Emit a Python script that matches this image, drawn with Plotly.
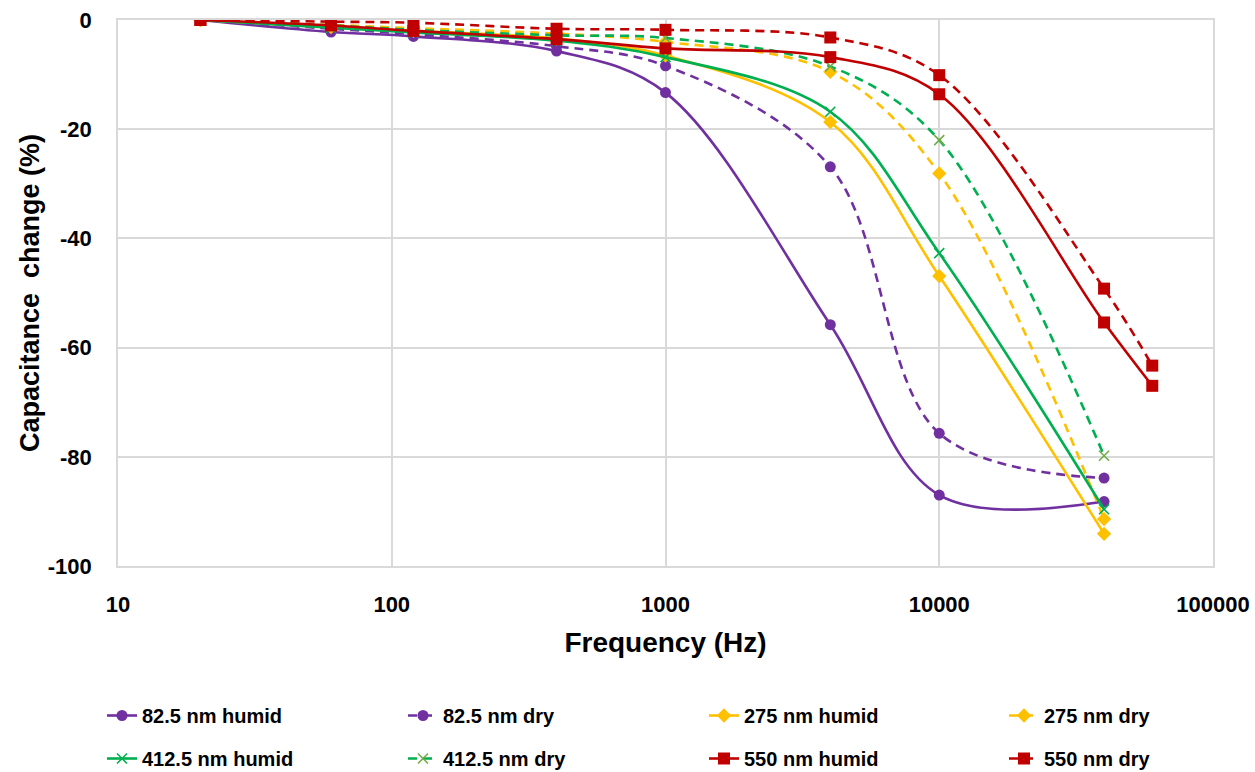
import plotly.graph_objects as go

freq = [20, 60, 120, 400, 1000, 4000, 10000, 40000]
freq_550 = [20, 60, 120, 400, 1000, 4000, 10000, 40000, 60000]

y_825_humid = [0, -2.2, -3.0, -5.7, -13.3, -55.8, -87.0, -88.2]
y_825_dry = [0, -1.6, -2.6, -4.8, -8.4, -26.9, -75.7, -83.9]
y_275_humid = [0, -1.3, -2.0, -3.4, -6.5, -18.7, -46.9, -94.1]
y_275_dry = [0, -0.9, -1.5, -2.5, -4.0, -9.5, -28.1, -91.4]
y_4125_humid = [0, -1.4, -2.3, -3.8, -6.8, -16.8, -42.7, -89.6]
y_4125_dry = [0, -1.0, -1.8, -2.8, -3.3, -8.5, -22.0, -79.8]
y_550_humid = [0, -1.0, -2.0, -3.5, -5.2, -6.8, -13.6, -55.4, -67.0]
y_550_dry = [0, -0.3, -0.5, -1.6, -1.8, -3.2, -10.1, -49.2, -63.3]

x_tickvals = [10, 100, 1000, 10000, 100000]
x_ticktext = ["10", "100", "1000", "10000", "100000"]
y_tickvals = [0, -20, -40, -60, -80, -100]
y_ticktext = ["0", "-20", "-40", "-60", "-80", "-100"]

# name, x, y, line colour, dash, symbol, marker colour, legend id
series = [
    ("82.5 nm humid", freq, y_825_humid, "#7030A0", "solid", "circle", "#7030A0", "legend"),
    ("82.5 nm dry", freq, y_825_dry, "#7030A0", "dash", "circle", "#7030A0", "legend2"),
    ("275 nm humid", freq, y_275_humid, "#FFC000", "solid", "diamond", "#FFC000", "legend3"),
    ("275 nm dry", freq, y_275_dry, "#FFC000", "dash", "diamond", "#FFC000", "legend4"),
    ("412.5 nm humid", freq, y_4125_humid, "#00B050", "solid", "x-thin", "#00B050", "legend"),
    ("412.5 nm dry", freq, y_4125_dry, "#00B050", "dash", "x-thin", "#70AD47", "legend2"),
    ("550 nm humid", freq_550, y_550_humid, "#C00000", "solid", "square", "#C00000", "legend3"),
    ("550 nm dry", freq_550, y_550_dry, "#C00000", "dash", "square", "#C00000", "legend4"),
]

fig = go.Figure()
for name, xs, ys, col, dash, sym, mcol, leg in series:
    dash_val = "9px,6px" if dash == "dash" else "solid"
    if sym == "x-thin":
        marker = dict(symbol=sym, size=10, color=mcol, line=dict(color=mcol, width=1.6))
    elif sym == "square":
        marker = dict(symbol=sym, size=12, color=mcol)
    else:
        marker = dict(symbol=sym, size=11, color=mcol)
    fig.add_trace(go.Scatter(
        x=xs, y=ys, name=name, mode="lines+markers", legend=leg, legendgroup=name,
        line=dict(color=col, width=2.6, dash=dash_val, shape="spline", smoothing=1.0),
        marker=marker,
    ))

leg_font = dict(size=20, family="Liberation Sans, Arial", color="black", weight="bold")
leg_y = 1 - 696 / 772
leg_common = dict(orientation="v", xref="container", yref="container", yanchor="top",
                  y=leg_y, xanchor="left", font=leg_font, tracegroupgap=14,
                  bgcolor="rgba(0,0,0,0)", itemwidth=30)
text_starts = [147, 448, 749, 1049]

fig.update_layout(
    width=1255, height=772,
    margin=dict(l=118, r=42, t=20, b=206, autoexpand=False),
    paper_bgcolor="white", plot_bgcolor="white",
    font=dict(family="Liberation Sans, Arial, sans-serif", color="black"),
    xaxis=dict(
        type="log", range=[1, 5],
        tickvals=x_tickvals, ticktext=x_ticktext,
        tickfont=dict(size=22, family="Liberation Sans, Arial", color="black", weight="bold"),
        ticks="outside", ticklen=18, tickcolor="rgba(0,0,0,0)",
        title=dict(text="Frequency (Hz)", font=dict(size=28, weight="bold"), standoff=16),
        showgrid=True, gridcolor="#d9d9d9", gridwidth=1.5,
        showline=True, linecolor="#d9d9d9", linewidth=1.5, mirror=True,
        zeroline=False,
    ),
    yaxis=dict(
        range=[-100, 0], tickvals=y_tickvals, ticktext=y_ticktext,
        tickfont=dict(size=22, family="Liberation Sans, Arial", color="black", weight="bold"),
        ticks="outside", ticklen=20, tickcolor="rgba(0,0,0,0)",
        showgrid=True, gridcolor="#d9d9d9", gridwidth=1.5,
        showline=True, linecolor="#d9d9d9", linewidth=1.5, mirror=True,
        zeroline=False,
    ),
    annotations=[dict(
        text="Capacitance  change (%)", xref="paper", yref="paper",
        x=0, y=0.5, xanchor="center", yanchor="middle", xshift=-88,
        textangle=-90, showarrow=False,
        font=dict(size=27, weight="bold", family="Liberation Sans, Arial", color="black"),
    )],
    legend=dict(x=(text_starts[0] - 45) / 1255, **leg_common),
    legend2=dict(x=(text_starts[1] - 45) / 1255, **leg_common),
    legend3=dict(x=(text_starts[2] - 45) / 1255, **leg_common),
    legend4=dict(x=(text_starts[3] - 45) / 1255, **leg_common),
    showlegend=True,
)

fig.write_html("out.html")
